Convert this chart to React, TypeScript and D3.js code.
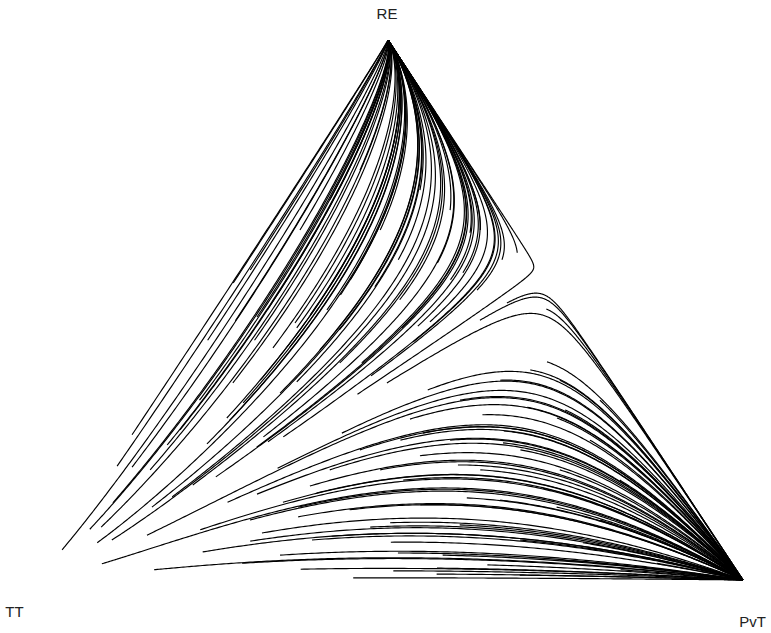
import { useRef, useEffect } from "react";
import * as d3 from "d3";

// strategies, in the order of the payoff matrix rows/columns
const strategies = ["TT", "RE", "PvT"];

// payoff of row strategy against column strategy
const payoff = [
  [0, 0, 0],
  [0.7, 1.3, 0],
  [0.45, 0.5, 1.07],
];

// initial population shares [RE, PvT]; TT holds the rest
const startsLower: [number, number][] = [
  [0.019, 0.161], [0.052, 0.213], [0.031, 0.279], [0.02, 0.367], [0.004, 0.449],
  [0.072, 0.27], [0.087, 0.279], [0.074, 0.356], [0.081, 0.38], [0.07, 0.469],
  [0.05, 0.489], [0.046, 0.554], [0.017, 0.499], [0.022, 0.558], [0.011, 0.563],
  [0.106, 0.45], [0.098, 0.426], [0.117, 0.315], [0.135, 0.306], [0.144, 0.28],
  [0.161, 0.319], [0.174, 0.303], [0.144, 0.202], [0.159, 0.236], [0.154, 0.119],
  [0.03, 0.082], [0.083, 0.119], [0.135, 0.1], [0.176, 0.137], [0.191, 0.162],
  [0.207, 0.241], [0.256, 0.203], [0.246, 0.192], [0.298, 0.382], [0.352, 0.38],
  [0.306, 0.48], [0.272, 0.413], [0.276, 0.525], [0.254, 0.535], [0.272, 0.299],
  [0.23, 0.43], [0.213, 0.492], [0.185, 0.429], [0.152, 0.535], [0.028, 0.626],
  [0.502, 0.472], [0.389, 0.506], [0.404, 0.522], [0.315, 0.592], [0.3, 0.588],
  [0.17, 0.633], [0.135, 0.67], [0.069, 0.74], [0.031, 0.863], [0.32, 0.536],
  [0.241, 0.34], [0.204, 0.387], [0.259, 0.458], [0.204, 0.528], [0.241, 0.566],
  [0.148, 0.584], [0.13, 0.381], [0.139, 0.476], [0.102, 0.55], [0.074, 0.649],
  [0.037, 0.724], [0.111, 0.743], [0.185, 0.734], [0.259, 0.655], [0.333, 0.632],
  [0.37, 0.557], [0.37, 0.473], [0.333, 0.435], [0.259, 0.388], [0.111, 0.25],
  [0.093, 0.189], [0.046, 0.325], [0.009, 0.681], [0.019, 0.818], [0.204, 0.316],
  [0.093, 0.808], [0.204, 0.64],
];

const startsUpper: [number, number][] = [
  [0.056, 0.013], [0.094, 0.033], [0.098, 0.047], [0.211, 0.013], [0.269, 0.005],
  [0.209, 0.035], [0.252, 0.119], [0.25, 0.064], [0.143, 0.041], [0.344, 0.285],
  [0.543, 0.21], [0.593, 0.218], [0.47, 0.307], [0.478, 0.32], [0.467, 0.286],
  [0.537, 0.357], [0.481, 0.389], [0.513, 0.411], [0.593, 0.364], [0.606, 0.379],
  [0.378, 0.287], [0.365, 0.316], [0.441, 0.315], [0.444, 0.09], [0.43, 0.123],
  [0.431, 0.146], [0.528, 0.169], [0.476, 0.131], [0.556, 0.169], [0.491, 0.145],
  [0.367, 0.188], [0.402, 0.231], [0.402, 0.262], [0.5, 0.164], [0.556, 0.31],
  [0.587, 0.276], [0.569, 0.321], [0.643, 0.294], [0.365, 0.099], [0.444, 0.024],
  [0.55, 0.007], [0.5, 0.08], [0.265, 0.192], [0.3, 0.123], [0.346, 0.175],
  [0.487, 0.072], [0.074, 0.074], [0.069, 0.056],
  [0.48, 0.045], [0.574, 0.019], [0.467, 0.138], [0.265, 0.22], [0.328, 0.132],
  [0.704, 0.066], [0.759, 0.081], [0.722, 0.184], [0.685, 0.245], [0.648, 0.052],
  [0.648, 0.306], [0.648, 0.165], [0.333, 0.068], [0.278, 0.068], [0.426, 0.191],
  [0.37, 0.135], [0.463, 0.2], [0.519, 0.257], [0.204, 0.063], [0.296, 0.129],
];

const T_END = 40;
const DT = 0.03;

function velocity(x: number[]) {
  const f = payoff.map((row) => row[0] * x[0] + row[1] * x[1] + row[2] * x[2]);
  const avg = f[0] * x[0] + f[1] * x[1] + f[2] * x[2];
  return x.map((xi, i) => xi * (f[i] - avg));
}

// replicator dynamics, RK4
function trajectory(re: number, pvt: number) {
  let x = [1 - re - pvt, re, pvt];
  const pts = [x];
  const add = (a: number[], b: number[], h: number) => a.map((v, i) => v + b[i] * h);
  for (let t = 0; t < T_END; t += DT) {
    const k1 = velocity(x);
    const k2 = velocity(add(x, k1, DT / 2));
    const k3 = velocity(add(x, k2, DT / 2));
    const k4 = velocity(add(x, k3, DT));
    x = x.map((v, i) => v + (DT / 6) * (k1[i] + 2 * k2[i] + 2 * k3[i] + k4[i]));
    pts.push(x);
    if (Math.max(...x) > 0.9995) break;
  }
  return pts;
}

export default function App() {
  const ref = useRef<HTMLDivElement>(null);

  function init() {
    if (!ref.current) return;
    ref.current.innerHTML = "";

    const width = 771,
      height = 633;

    const svg = d3
      .select(ref.current)
      .append("svg")
      .attr("width", width)
      .attr("height", height)
      .style("display", "block");

    // ternary projection: x from PvT + RE/2, y from RE
    const x = d3.scaleLinear().domain([0, 1]).range([33, 743]);
    const y = d3.scaleLinear().domain([0, 1]).range([580, 40]);

    const line = d3
      .line<number[]>()
      .x((d) => x(d[2] + d[1] / 2))
      .y((d) => y(d[1]));

    const starts = [...startsLower, ...startsUpper];

    svg
      .append("g")
      .selectAll("path")
      .data(starts.map(([re, pvt]) => trajectory(re, pvt)))
      .join("path")
      .attr("d", line)
      .attr("fill", "none")
      .attr("stroke", "#000")
      .attr("stroke-width", 1.15);

    // corner labels
    const corners = [
      { name: strategies[0], share: [1, 0, 0], dx: -18.5, dy: 37 },
      { name: strategies[1], share: [0, 1, 0], dx: -1, dy: -21 },
      { name: strategies[2], share: [0, 0, 1], dx: 9.5, dy: 47 },
    ];

    svg
      .append("g")
      .selectAll("text")
      .data(corners)
      .join("text")
      .attr("x", (d) => x(d.share[2] + d.share[1] / 2) + d.dx)
      .attr("y", (d) => y(d.share[1]) + d.dy)
      .attr("text-anchor", "middle")
      .style("font-family", "Liberation Sans, Arial, sans-serif")
      .style("font-size", "15px")
      .style("fill", "#222")
      .text((d) => d.name);
  }

  useEffect(init, []);

  return (
    <div
      ref={ref}
      style={{ position: "absolute", left: 0, top: 0 }}
    ></div>
  );
}
